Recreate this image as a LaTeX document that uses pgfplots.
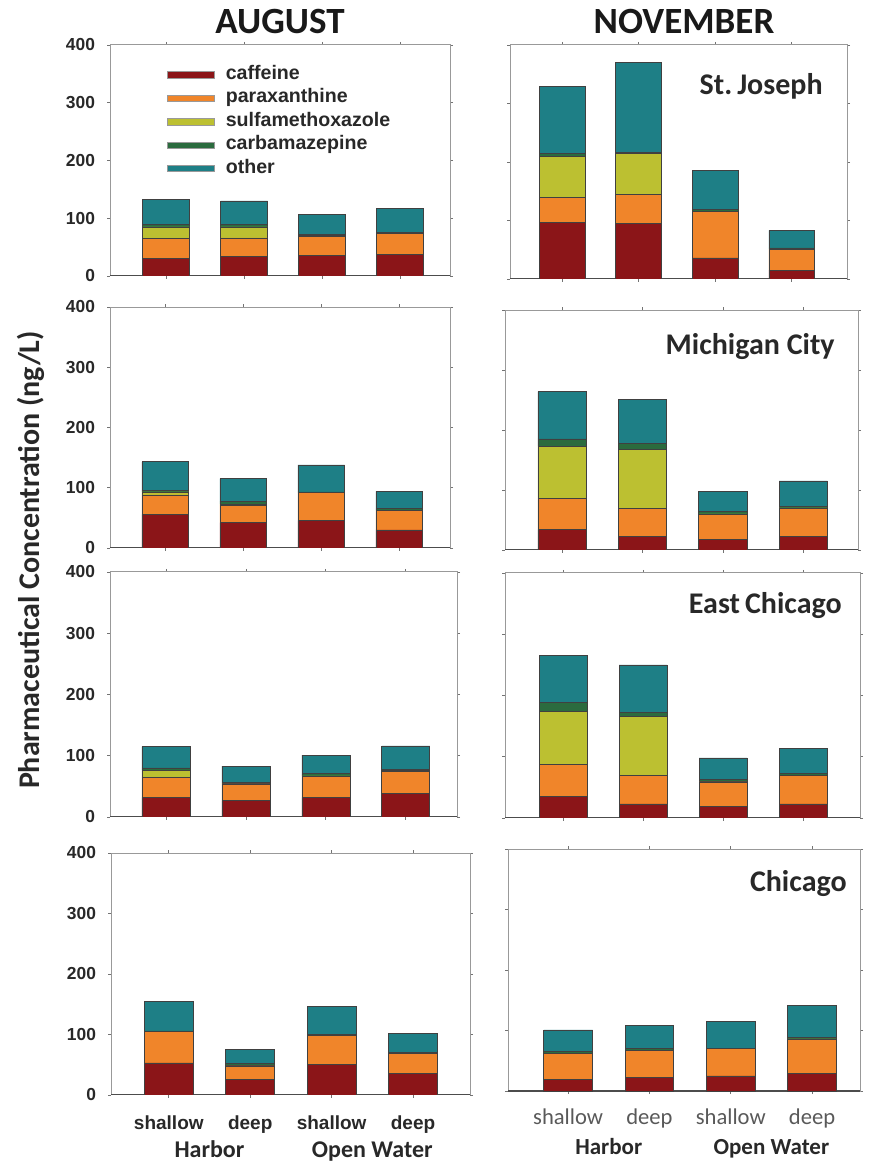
\documentclass[border=0pt]{standalone}
\usepackage{pgfplots}
\usepackage{pgfplotstable}
\pgfplotsset{compat=1.18}
\usepackage{fontspec}
\setmainfont{Liberation Sans}
\newfontfamily\carl{Carlito}

\definecolor{caf}{RGB}{139,21,24}
\definecolor{par}{RGB}{240,133,42}
\definecolor{sul}{RGB}{188,192,49}
\definecolor{car}{RGB}{43,107,62}
\definecolor{oth}{RGB}{30,127,134}
\definecolor{txt}{RGB}{40,40,40}

% data: increments per compound (stacked), bars 0..3 = shallow/deep Harbor, shallow/deep Open Water
\pgfplotstableread{
x caf par sul car oth
0 31 34 20 4 44
1 34 32 19 5 40
2 35 33 2 2 34
3 37 36 1 2 41
}\tA
\pgfplotstableread{
x caf par sul car oth
0 97 43 70 4 115
1 95 50 69 3 153
2 36 79 1 3 66
3 15 36 0 2 30
}\tB
\pgfplotstableread{
x caf par sul car oth
0 56 32 5 3 47
1 42 29 2 5 37
2 46 46 0 1 45
3 30 32 1 2 29
}\tC
\pgfplotstableread{
x caf par sul car oth
0 34 52 87 12 79
1 22 47 99 10 73
2 18 41 1 4 34
3 22 47 1 3 42
}\tD
\pgfplotstableread{
x caf par sul car oth
0 32 32 12 4 35
1 27 27 1 1 27
2 32 34 1 4 30
3 38 37 1 1 39
}\tE
\pgfplotstableread{
x caf par sul car oth
0 35 53 86 14 77
1 23 47 96 7 77
2 19 40 1 3 35
3 23 46 1 3 41
}\tF
\pgfplotstableread{
x caf par sul car oth
0 53 52 0 1 49
1 26 22 1 3 24
2 50 49 0 1 46
3 35 34 1 1 31
}\tG
\pgfplotstableread{
x caf par sul car oth
0 19 43 0 4 35
1 23 44 0 3 39
2 25 45 0 1 44
3 29 57 0 3 53
}\tH

\newcommand{\drawstack}[1]{%
  \addplot[fill=caf] table[x=x,y=caf]{#1};
  \addplot[fill=par] table[x=x,y=par]{#1};
  \addplot[fill=sul] table[x=x,y=sul]{#1};
  \addplot[fill=car] table[x=x,y=car]{#1};
  \addplot[fill=oth] table[x=x,y=oth]{#1};
  \draw[black!70, line width=0.6pt] (rel axis cs:0,0) -- (rel axis cs:1,0);
}

\tikzset{loc/.style={font=\carl\fontsize{15}{17}\selectfont\bfseries, text=txt, inner sep=0pt, anchor=north east}}

\pgfplotsset{
  panel/.style={
    scale only axis, anchor=south west,
    ybar stacked, bar width=0.6, bar shift=0pt,
    ymin=0, ymax=400, enlargelimits=false,
    xtick={0,1,2,3}, xticklabels={},
    ytick={0,100,200,300,400},
    tick align=outside, major tick length=1.5pt,
    tick style={black!55, line width=0.4pt},
    axis line style={black!40, line width=0.5pt},
    every axis plot/.append style={draw=black!75, line width=0.35pt},
  },
  leftpanel/.style={
    /pgf/number format/assume math mode=true,
    yticklabel style={font=\fontsize{8.7}{10}\selectfont\bfseries, text=txt, xshift=-2.5pt},
  },
  rightpanel/.style={yticklabels={}},
}

\begin{document}
\begin{tikzpicture}
\path[use as bounding box] (0,0) rectangle (436pt,581pt);

\node[font=\carl\fontsize{18.5}{20}\selectfont\bfseries, text=black!90] at (140pt,570pt) {AUGUST};
\node[font=\carl\fontsize{18.5}{20}\selectfont\bfseries, text=black!90] at (342pt,570pt) {NOVEMBER};
\node[font=\carl\fontsize{15}{17}\selectfont\bfseries, text=txt, rotate=90] at (15.5pt,301pt) {Pharmaceutical Concentration (ng/L)};

% Row 1
\begin{axis}[panel, leftpanel, at={(55pt,443pt)}, width=170pt, height=115.5pt, xmin=-0.72, xmax=3.64,
  legend style={draw=none, fill=none, at={(0.15,0.93)}, anchor=north west,
    font=\fontsize{9.8}{11}\selectfont\bfseries, text=txt, row sep=2.5pt, column sep=5.5pt,
    nodes={inner sep=0pt, text height=7pt, text depth=2.2pt}},
  legend cell align=left,
  legend image code/.code={\draw[#1, draw=black!40, line width=0.2pt] (0pt,-1.6pt) rectangle (23.5pt,1.6pt);}]
\drawstack{\tA}
\legend{caffeine,paraxanthine,sulfamethoxazole,carbamazepine,other}
\end{axis}
\begin{axis}[panel, rightpanel, at={(255pt,441.5pt)}, width=168.5pt, height=117pt, xmin=-0.68, xmax=3.72]
\drawstack{\tB}
\node[loc] at ([xshift=-12pt,yshift=-14pt]rel axis cs:1,1) {St.\,Joseph};
\end{axis}

% Row 2
\begin{axis}[panel, leftpanel, at={(55pt,307pt)}, width=170pt, height=120.5pt, xmin=-0.71, xmax=3.65]
\drawstack{\tC}
\end{axis}
\begin{axis}[panel, rightpanel, at={(252.5pt,306pt)}, width=176.5pt, height=120pt, xmin=-0.71, xmax=3.68]
\drawstack{\tD}
\node[loc] at ([xshift=-11.5pt,yshift=-11.5pt]rel axis cs:1,1) {Michigan City};
\end{axis}

% Row 3
\begin{axis}[panel, leftpanel, at={(55pt,172.5pt)}, width=173.5pt, height=122.5pt, xmin=-0.7, xmax=3.64]
\drawstack{\tE}
\end{axis}
\begin{axis}[panel, rightpanel, at={(252.5pt,172pt)}, width=177.5pt, height=122.5pt, xmin=-0.725, xmax=3.71]
\drawstack{\tF}
\node[loc] at ([xshift=-9pt,yshift=-9.5pt]rel axis cs:1,1) {East\,Chicago};
\end{axis}

% Row 4
\begin{axis}[panel, leftpanel, at={(55.5pt,33.5pt)}, width=179.5pt, height=121pt, xmin=-0.71, xmax=3.70,
  xticklabels={shallow,deep,shallow,deep},
  xticklabel style={font=\fontsize{9.5}{11}\selectfont\bfseries, text=txt, anchor=center, text height=7pt, text depth=2pt, yshift=-13pt},
  extra x ticks={0.5,2.5}, extra x tick labels={Harbor,Open Water},
  extra x tick style={major tick length=0pt, xticklabel style={font=\carl\fontsize{12}{14}\selectfont\bfseries, text height=8.5pt, text depth=2.5pt, yshift=-15.3pt}}]
\drawstack{\tG}
\end{axis}
\begin{axis}[panel, rightpanel, at={(254pt,35.5pt)}, width=176pt, height=121pt, xmin=-0.74, xmax=3.59,
  xticklabels={shallow,deep,shallow,deep},
  xticklabel style={font=\carl\fontsize{11.3}{13}\selectfont, text=black!65, anchor=center, text height=8pt, text depth=2.3pt, yshift=-12.5pt},
  extra x ticks={0.5,2.5}, extra x tick labels={Harbor,Open Water},
  extra x tick style={major tick length=0pt, xticklabel style={font=\carl\fontsize{11.5}{13}\selectfont\bfseries, text=txt, text height=8pt, text depth=2.3pt, yshift=-16.5pt}}]
\drawstack{\tH}
\node[loc] at ([xshift=-6.5pt,yshift=-10.5pt]rel axis cs:1,1) {Chicago};
\end{axis}
\end{tikzpicture}
\end{document}
